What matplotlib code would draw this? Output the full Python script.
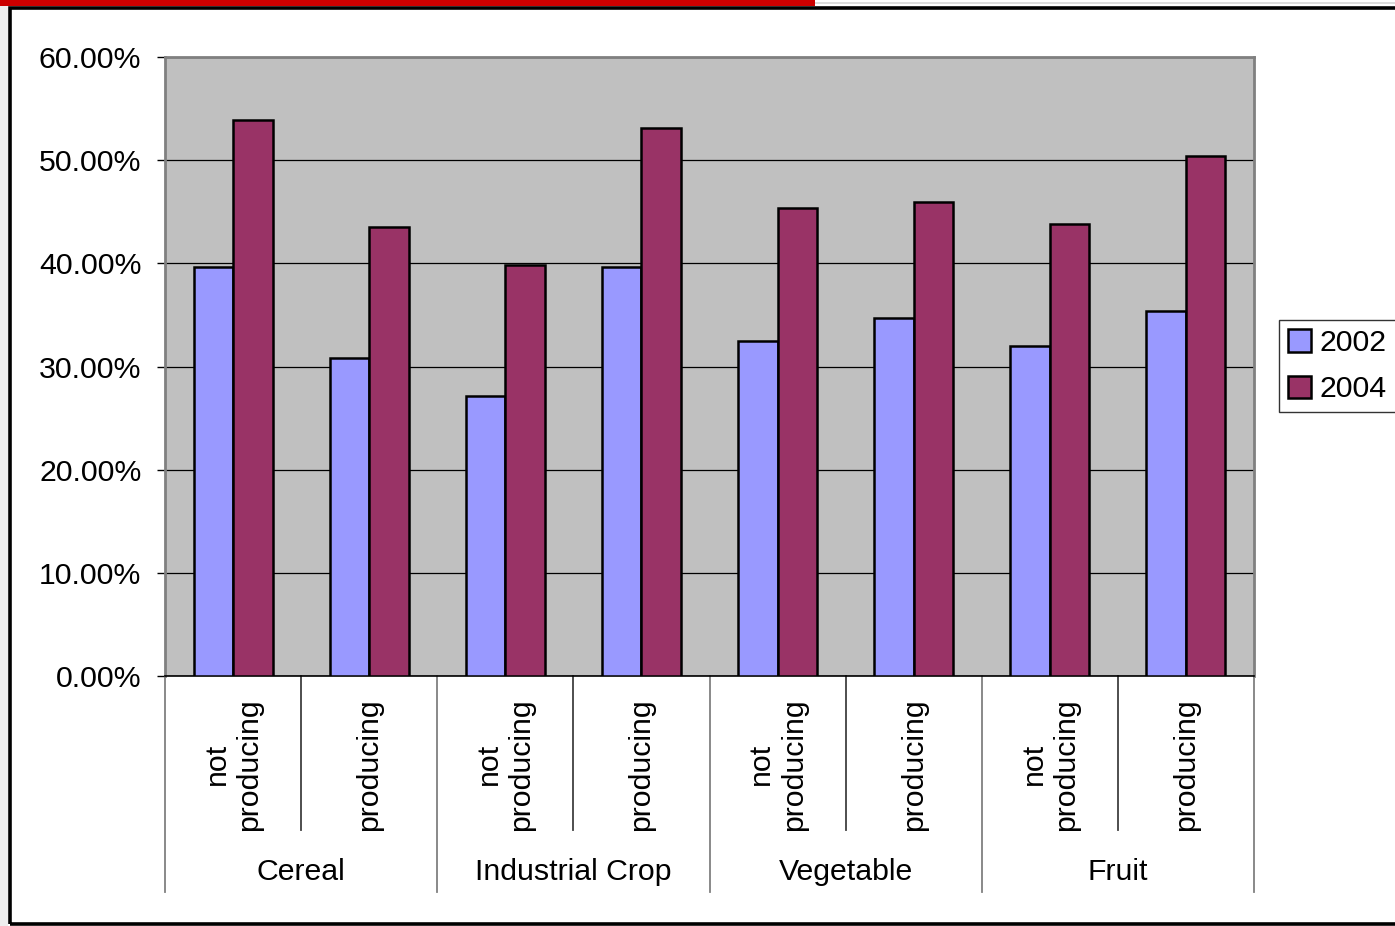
import matplotlib
matplotlib.use("Agg")
import matplotlib.pyplot as plt
from matplotlib.patches import Rectangle, Patch
from matplotlib.lines import Line2D
import numpy as np

plt.rcParams['font.family'] = ['Liberation Sans', 'DejaVu Sans']

groups = ["Cereal", "Industrial Crop", "Vegetable", "Fruit"]
subcats = ["not\nproducing", "producing"] * 4
series_names = ["2002", "2004"]
vals_2002 = [39.6, 30.8, 27.1, 39.6, 32.5, 34.7, 32.0, 35.4]
vals_2004 = [53.9, 43.5, 39.8, 53.1, 45.4, 45.9, 43.8, 50.4]
yticks = [0, 10, 20, 30, 40, 50, 60]
ytick_labels = ["0.00%", "10.00%", "20.00%", "30.00%", "40.00%", "50.00%", "60.00%"]

FS = 21.8
W, H = 1395, 926
fig = plt.figure(figsize=(W / 100, H / 100), dpi=100)
fig.patch.set_facecolor("white")

# decorative frame
fig.add_artist(Rectangle((0, 0), 8 / W, 1, transform=fig.transFigure, facecolor="#eeeeee", edgecolor="none"))
fig.add_artist(Rectangle((0, 1 - 6 / H), 815 / W, 6 / H, transform=fig.transFigure, facecolor="#cc0000", edgecolor="none"))
fig.add_artist(Rectangle((815 / W, 1 - 4 / H), 1, 2 / H, transform=fig.transFigure, facecolor="#dddddd", edgecolor="none"))
fig.add_artist(Rectangle((9.5 / W, 1 - 923.5 / H), 1.2, (923.5 - 7.5) / H, transform=fig.transFigure,
                         facecolor="none", edgecolor="black", linewidth=2.6))

left, right, top, bottom = 165, 1254, 57, 676
ax = fig.add_axes([left / W, 1 - bottom / H, (right - left) / W, (bottom - top) / H])
ax.set_facecolor("#c0c0c0")

x = np.arange(len(vals_2002))
bw = 0.29
ax.bar(x - bw / 2, vals_2002, bw, color="#9999ff", edgecolor="black", linewidth=1.8, zorder=3)
ax.bar(x + bw / 2, vals_2004, bw, color="#993366", edgecolor="black", linewidth=1.8, zorder=3)

ax.set_xlim(-0.5, len(x) - 0.5)
ax.set_ylim(0, 60)
ax.set_yticks(yticks)
ax.set_yticklabels(ytick_labels, fontsize=FS)
ax.yaxis.grid(True, color="black", linewidth=0.9, zorder=0)
ax.set_axisbelow(True)
ax.tick_params(axis="y", length=6, width=1, pad=11, color="black")
ax.set_xticks([])

for s in ["top", "right", "left"]:
    ax.spines[s].set_color("#808080")
    ax.spines[s].set_linewidth(2)
ax.spines["bottom"].set_color("black")
ax.spines["bottom"].set_linewidth(1.2)

trans = ax.get_xaxis_transform()
axh = bottom - top
for i, lab in enumerate(subcats):
    ax.text(i, -22 / axh, lab, rotation=90, ha="center", va="top", multialignment="center",
            fontsize=FS, transform=trans)
for g, name in enumerate(groups):
    ax.text(2 * g + 0.5, -(872 - bottom) / axh, name, ha="center", va="center", fontsize=FS, transform=trans)

for i in range(len(x) + 1):
    xp = i - 0.5
    if i % 2 == 0:
        y1 = -(892 - bottom) / axh
        col = "#808080"
    else:
        y1 = -(830 - bottom) / axh
        col = "#404040"
    ax.add_line(Line2D([xp, xp], [0, y1], transform=trans, color=col, linewidth=1.3, clip_on=False))

handles = [Patch(facecolor="#9999ff", edgecolor="black", linewidth=1.8),
           Patch(facecolor="#993366", edgecolor="black", linewidth=1.8)]
leg = fig.legend(handles, series_names, loc="upper left", bbox_to_anchor=(1279 / W, 1 - 320 / H),
                 fontsize=FS, frameon=True, fancybox=False, handlelength=0.75, handleheight=0.75,
                 handletextpad=0.3, borderpad=0.3, labelspacing=0.6, borderaxespad=0)
leg.get_frame().set_edgecolor("black")
leg.get_frame().set_linewidth(1)

fig.savefig("out.png", dpi=100)
